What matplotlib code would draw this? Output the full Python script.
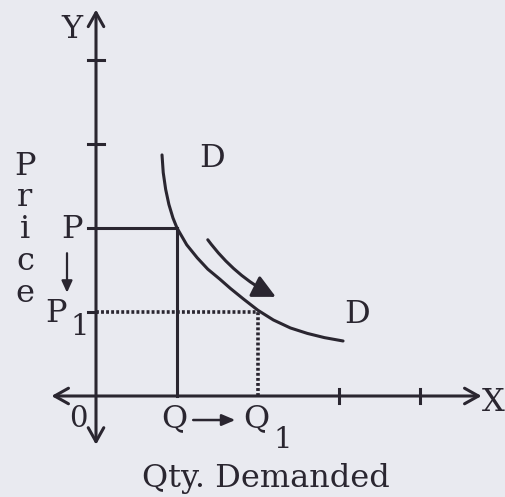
import matplotlib
matplotlib.use("Agg")
import matplotlib.pyplot as plt
from matplotlib.patches import FancyArrowPatch

# ---- data (axis units = tick spacing) ----
curve_x = [0.815, 0.83, 0.86, 0.90, 0.95, 1.0, 1.12, 1.25, 1.38, 1.53, 1.66, 1.82, 2.0, 2.19, 2.40, 2.61, 2.82, 3.05]
curve_y = [2.87, 2.66, 2.46, 2.28, 2.12, 2.0, 1.80, 1.645, 1.51, 1.39, 1.28, 1.155, 1.02, 0.905, 0.81, 0.745, 0.695, 0.655]
price_P, price_P1 = 2.0, 1.0
qty_Q, qty_Q1 = 1.0, 2.0
x_ticks = [3, 4]
y_ticks = [3, 4]
y_label = "Price"

INK = "#2a2630"
BG = "#e9eaf0"
FONT = "DejaVu Serif"
FS = 23

fig = plt.figure(figsize=(5.06, 4.97), dpi=100, facecolor=BG)
ax = fig.add_axes([0, 0, 1, 1])
ax.set_facecolor(BG)
ax.set_xlim(-96 / 81, 410 / 81)
ax.set_ylim(-101 / 84, 396 / 84)
ax.axis("off")

# axes with arrows
ax.add_patch(FancyArrowPatch((-0.55, 0), (4.76, 0), arrowstyle="<->,head_length=0.5,head_width=0.28",
                             color=INK, lw=2.2, mutation_scale=20, shrinkA=0, shrinkB=0))
ax.add_patch(FancyArrowPatch((0, -0.58), (0, 4.6), arrowstyle="<->,head_length=0.5,head_width=0.28",
                             color=INK, lw=2.2, mutation_scale=20, shrinkA=0, shrinkB=0))

# tick marks
for t in x_ticks:
    ax.plot([t, t], [-0.085, 0.085], color=INK, lw=2.2)
for t in y_ticks:
    ax.plot([-0.1, 0.1], [t, t], color=INK, lw=2.2)
ax.plot([-0.1, 0.0], [price_P1, price_P1], color=INK, lw=2.2)

# guide lines
ax.plot([-0.1, qty_Q], [price_P, price_P], color=INK, lw=2.2)
ax.plot([qty_Q, qty_Q], [0, price_P], color=INK, lw=2.2)
ax.plot([0, qty_Q1], [price_P1, price_P1], color=INK, lw=2.6, linestyle=(0, (0.8, 0.6)))
ax.plot([qty_Q1, qty_Q1], [0, price_P1], color=INK, lw=2.6, linestyle=(0, (0.8, 0.6)))

# demand curve
ax.plot(curve_x, curve_y, color=INK, lw=2.2, solid_capstyle="round", solid_joinstyle="round")

# curved movement arrow along the curve
ax.add_patch(FancyArrowPatch((1.38, 1.86), (2.22, 1.18), connectionstyle="arc3,rad=0.12",
                             arrowstyle="-|>,head_length=0.7,head_width=0.35", mutation_scale=20,
                             color=INK, lw=2.2, shrinkA=0, shrinkB=0))

# price fall arrow P -> P1
ax.add_patch(FancyArrowPatch((-0.358, 1.70), (-0.358, 1.23), arrowstyle="-|>,head_length=0.35,head_width=0.16",
                             mutation_scale=20, color=INK, lw=1.6, shrinkA=0, shrinkB=0))
# quantity rise arrow Q -> Q1
ax.add_patch(FancyArrowPatch((1.20, -0.286), (1.72, -0.286), arrowstyle="-|>,head_length=0.4,head_width=0.17",
                             mutation_scale=20, color=INK, lw=1.8, shrinkA=0, shrinkB=0))

def T(x, y, s, size=FS, **kw):
    kw.setdefault("va", "baseline")
    ax.text(x, y, s, fontsize=size, family=FONT, color=INK, ha="center", **kw)

T(-0.296, 4.26, "Y")
T(4.91, -0.18, "X")
T(-0.22, -0.37, "0", size=21)
T(0.97, -0.37, "Q")
T(1.98, -0.37, "Q")
T(2.30, -0.62, "1", size=21)
T(2.10, -1.083, "Qty. Demanded")
T(-0.296, 1.88, "P")
T(-0.49, 0.88, "P")
T(-0.204, 0.726, "1", size=21)
T(1.43, 2.73, "D")
T(3.22, 0.87, "D")

# vertical "Price" as one stacked text
T(-0.877, 1.98, "\n".join(y_label), va="center", multialignment="center", linespacing=1.03)

fig.savefig("out.png", dpi=100, facecolor=BG)
